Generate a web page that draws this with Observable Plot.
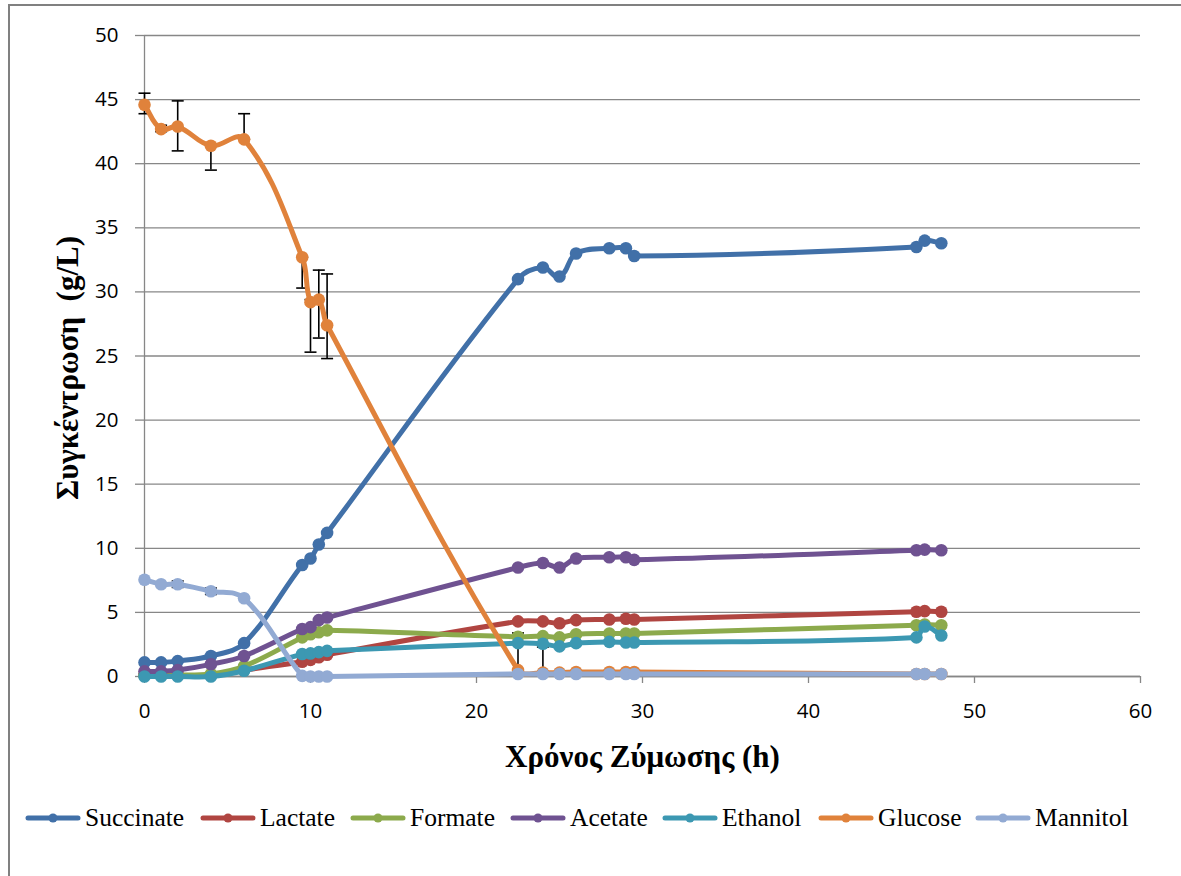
<!DOCTYPE html>
<html>
<head>
<meta charset="utf-8">
<script src="https://cdn.jsdelivr.net/npm/d3@7"></script>
<script src="https://cdn.jsdelivr.net/npm/@observablehq/plot@0.6"></script>
<style>
  html, body { margin: 0; padding: 0; background: #fff; }
  #wrap { position: relative; width: 1181px; height: 876px; overflow: hidden; }
  #frame { position: absolute; left: 8px; top: 4px; width: 1300px; height: 1000px;
           border-left: 2.5px solid #808080; border-top: 2.5px solid #808080; }
  #chart { position: absolute; left: 0; top: 0; }
  #legend { position: absolute; left: 0; top: 800px; width: 1181px; height: 36px; }
  .item { position: absolute; top: 0; display: flex; align-items: center; height: 36px;
          font-family: "Liberation Serif", "Times New Roman", serif; font-size: 25.5px; color: #000; white-space: nowrap; }
  .item span { font-family: "Liberation Serif", "Times New Roman", serif; }
  .item svg { margin-right: 4px; }
</style>
</head>
<body>
<div id="wrap">
  <div id="frame"></div>
  <div id="chart"></div>
  <div id="legend"></div>
</div>
<script>
// ---- data ----
const time      = [0, 1, 2, 4, 6, 9.5, 10, 10.5, 11, 22.5, 24, 25, 26, 28, 29, 29.5, 46.5, 47, 48];
const succinate = [1.1, 1.1, 1.2, 1.6, 2.6, 8.7, 9.2, 10.3, 11.2, 31.0, 31.9, 31.2, 33.0, 33.4, 33.4, 32.8, 33.5, 34.0, 33.8];
const lactate   = [0.1, 0.1, 0.1, 0.1, 0.5, 1.15, 1.3, 1.5, 1.7, 4.3, 4.3, 4.15, 4.4, 4.45, 4.5, 4.45, 5.05, 5.1, 5.05];
const formate   = [0.1, 0.1, 0.1, 0.2, 0.8, 3.05, 3.3, 3.45, 3.6, 3.1, 3.15, 3.05, 3.3, 3.35, 3.35, 3.35, 4.0, 4.05, 4.0];
const acetate   = [0.4, 0.4, 0.5, 0.95, 1.6, 3.7, 3.85, 4.4, 4.6, 8.5, 8.85, 8.5, 9.2, 9.3, 9.3, 9.1, 9.85, 9.9, 9.85];
const ethanol   = [0.0, 0.0, 0.0, 0.0, 0.45, 1.75, 1.8, 1.9, 2.0, 2.6, 2.55, 2.35, 2.6, 2.7, 2.65, 2.65, 3.05, 3.9, 3.2];
const glucose   = [44.6, 42.7, 42.9, 41.4, 41.9, 32.7, 29.2, 29.4, 27.4, 0.5, 0.3, 0.3, 0.35, 0.35, 0.35, 0.35, 0.2, 0.2, 0.2];
const mannitol  = [7.55, 7.2, 7.2, 6.65, 6.1, 0.05, 0.0, 0.0, 0.0, 0.2, 0.2, 0.2, 0.2, 0.2, 0.2, 0.2, 0.2, 0.2, 0.2];

// error bars (time, low, high)
const errTime = [0, 1, 2, 4, 6, 9.5, 10, 10.5, 11, 22.5, 24, 2, 4];
const errLow  = [43.9, 42.5, 41.0, 39.5, 41.9, 30.3, 25.3, 26.4, 24.8, 0.5, 0.3, 6.95, 6.4];
const errHigh = [45.5, 43.0, 44.9, 41.4, 43.9, 32.7, 29.4, 31.7, 31.4, 3.4, 2.3, 7.45, 6.9];

const seriesNames  = ["Succinate", "Lactate", "Formate", "Acetate", "Ethanol", "Glucose", "Mannitol"];
const seriesValues = [succinate, lactate, formate, acetate, ethanol, glucose, mannitol];
const seriesColors = ["#4170A8", "#B04541", "#8CAA4C", "#6F5291", "#3C98B2", "#E0823B", "#92AAD3"];

const xTicks = [0, 10, 20, 30, 40, 50, 60];
const yTicks = [0, 5, 10, 15, 20, 25, 30, 35, 40, 45, 50];

const xTitle = "Χρόνος Ζύμωσης (h)";
const yTitle = "Συγκέντρωση  (g/L)";

// ---- smoothed-line curve (spreadsheet style): Catmull-Rom tangent direction,
//      control distance proportional to each segment's own length ----
function smoothCurve(context) {
  let pts = [];
  return {
    areaStart() {}, areaEnd() {},
    lineStart() { pts = []; },
    point(x, y) { pts.push([+x, +y]); },
    lineEnd() {
      const n = pts.length;
      if (!n) return;
      context.moveTo(pts[0][0], pts[0][1]);
      if (n === 1) return;
      const dir = pts.map((p, i) => {
        const a = pts[Math.max(0, i - 1)], b = pts[Math.min(n - 1, i + 1)];
        const dx = b[0] - a[0], dy = b[1] - a[1];
        const L = Math.hypot(dx, dy) || 1;
        return [dx / L, dy / L];
      });
      for (let i = 0; i < n - 1; i++) {
        const p = pts[i], q = pts[i + 1];
        const L = Math.hypot(q[0] - p[0], q[1] - p[1]) * 0.36;
        context.bezierCurveTo(
          p[0] + dir[i][0] * L, p[1] + dir[i][1] * L,
          q[0] - dir[i + 1][0] * L, q[1] - dir[i + 1][1] * L,
          q[0], q[1]);
      }
    }
  };
}

// ---- build ----
const rows = [];
seriesNames.forEach((name, i) => {
  time.forEach((t, j) => rows.push({series: name, t, v: seriesValues[i][j]}));
});
const errs = errTime.map((t, i) => ({t, lo: errLow[i], hi: errHigh[i]}));

const capSymbol = { draw(ctx, size) { ctx.moveTo(-6, 0); ctx.lineTo(6, 0); } };

const gray = "#878787";
const serif = "'Liberation Serif', 'Times New Roman', serif";
const lineMarks = [];
seriesNames.forEach((name, i) => {
  const d = rows.filter(r => r.series === name);
  lineMarks.push(Plot.line(d, {x: "t", y: "v", stroke: seriesColors[i], strokeWidth: 5, curve: smoothCurve}));
  lineMarks.push(Plot.dot(d, {x: "t", y: "v", fill: seriesColors[i], r: 6.3}));
});

const chart = Plot.plot({
  width: 1181,
  height: 790,
  marginLeft: 144,
  marginRight: 41,
  marginTop: 35,
  marginBottom: 114,
  x: {domain: [0, 60]},
  y: {domain: [0, 50]},
  style: {fontFamily: "'Open Sans', 'Noto Sans', sans-serif", fontSize: "20px", color: "#000", background: "transparent"},
  marks: [
    Plot.gridY(yTicks, {stroke: gray, strokeOpacity: 1, strokeWidth: 1.3}),
    Plot.axisY(yTicks, {tickSize: 9, tickPadding: 17, stroke: gray, strokeWidth: 1.3, fill: "#000", fontSize: 20.5, label: null}),
    Plot.axisX(xTicks, {tickSize: 7, tickPadding: 20, stroke: gray, strokeWidth: 1.3, fill: "#000", fontSize: 20.5, label: null}),
    Plot.ruleX([0], {stroke: gray, strokeWidth: 1.3}),
    Plot.ruleY([0], {stroke: gray, strokeWidth: 1.3}),
    Plot.ruleX(errs, {x: "t", y1: "lo", y2: "hi", stroke: "#000", strokeWidth: 1.6}),
    Plot.dot(errs, {x: "t", y: "lo", symbol: capSymbol, stroke: "#000", strokeWidth: 1.6, fill: "none"}),
    Plot.dot(errs, {x: "t", y: "hi", symbol: capSymbol, stroke: "#000", strokeWidth: 1.6, fill: "none"}),
    ...lineMarks,
    Plot.text([xTitle], {frameAnchor: "bottom", dy: 81, textAnchor: "middle", lineAnchor: "middle", fontFamily: serif, fontWeight: "bold", fontSize: 31, fill: "#000"}),
    Plot.text([yTitle], {frameAnchor: "left", dx: -76, dy: 12, rotate: -90, textAnchor: "middle", lineAnchor: "middle", fontFamily: serif, fontWeight: "bold", fontSize: 31, fill: "#000"})
  ]
});
document.getElementById("chart").appendChild(chart);

// ---- legend ----
const legendLeft = [25, 200, 350, 510, 662, 818, 975];
const legend = document.getElementById("legend");
seriesNames.forEach((name, i) => {
  const item = document.createElement("div");
  item.className = "item";
  item.style.left = legendLeft[i] + "px";
  item.innerHTML = `<svg width="56" height="14"><line x1="3" y1="7" x2="53" y2="7" stroke="${seriesColors[i]}" stroke-width="5" stroke-linecap="round"/><circle cx="28" cy="7" r="4.5" fill="${seriesColors[i]}"/></svg><span>${name}</span>`;
  legend.appendChild(item);
});
</script>
</body>
</html>
